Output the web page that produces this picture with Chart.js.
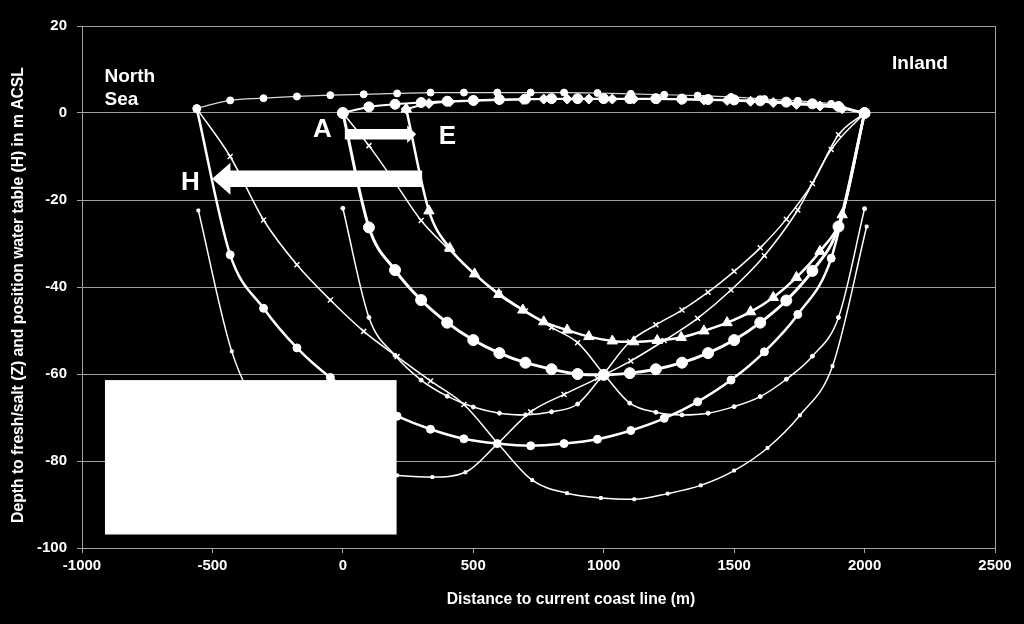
<!DOCTYPE html>
<html><head><meta charset="utf-8">
<script src="https://cdn.jsdelivr.net/npm/chart.js@4.4.0/dist/chart.umd.min.js"></script>
<style>html,body{margin:0;padding:0;background:#000;}#wrap{width:1024px;height:624px;}</style>
</head><body><div id="wrap"><canvas id="c" width="1024" height="624"></canvas></div>
<script>
// ---- axis ticks ----
const xTickValues = [-1000, -500, 0, 500, 1000, 1500, 2000, 2500];
const yTickValues = [20, 0, -20, -40, -60, -80, -100];

// ---- scenario A (current) ----
const A_x  = [0,100,200,300,400,500,600,700,800,900,1000,1100,1200,1300,1400,1500,1600,1700,1800,1900,2000];
const HA_y = [0,1.4,2.0,2.4,2.7,2.9,3.1,3.2,3.3,3.3,3.3,3.3,3.3,3.2,3.1,3.0,2.8,2.5,2.1,1.5,0];
const ZA_y = [0,-26.3,-36.1,-43,-48.2,-52.2,-55.2,-57.4,-58.9,-60,-60.2,-59.8,-58.9,-57.4,-55.2,-52.2,-48.2,-43.1,-36.3,-26.1,0];

// ---- scenario E ----
const E_x  = [243,330,410,505,598,690,770,860,943,1033,1115,1205,1297,1384,1473,1563,1650,1739,1829,1914,2000];
const HE_y = [0.9,2.2,2.6,2.8,3.0,3.1,3.2,3.2,3.2,3.2,3.2,3.2,3.1,3.0,2.9,2.7,2.4,2.0,1.6,1.0,0];
const ZE_y = [0.9,-22.5,-31.1,-37,-41.7,-45.3,-48,-49.9,-51.4,-52.4,-52.6,-52.3,-51.6,-50.1,-48.2,-45.7,-42.4,-37.8,-31.8,-23.4,0];

// ---- scenario H ----
const H_x  = [-560,-432,-304,-176,-48,80,208,336,464,592,720,848,976,1104,1232,1360,1488,1616,1744,1872,2000];
const HH_y = [1.1,2.9,3.4,3.8,4.1,4.3,4.5,4.7,4.7,4.7,4.7,4.7,4.6,4.4,4.2,4.0,3.7,3.2,2.8,2.1,0];
const ZH_y = [1,-32.6,-44.9,-54,-60.8,-65.8,-69.7,-72.7,-74.9,-76,-76.5,-76,-75,-73,-70.2,-66.4,-61.4,-54.9,-46.3,-33.4,0];

// ---- thin curves, scenario A ----
const AXl_x = [0,100,200,300,400,500,600,700,800,900,1000];
const AXl_y = [0,-7.5,-16,-24.7,-31,-36.8,-41.5,-45.5,-49.3,-52.8,-60];
const AXr_x = [1000,1100,1200,1300,1400,1500,1600,1700,1800,1900,2000];
const AXr_y = [-60,-52.6,-48.7,-45.3,-41.2,-36.4,-31,-24.4,-16.2,-5,0];
const ADl_x = [0,100,200,300,400,500,600,700,800,900,1000];
const ADl_y = [-21.9,-47,-55.7,-61.4,-65.1,-67.6,-69,-69.4,-68.7,-66.9,-60];
const ADr_x = [1000,1100,1200,1300,1400,1500,1600,1700,1800,1900,2000];
const ADr_y = [-60,-66.7,-68.8,-69.4,-69,-67.5,-65.2,-61.2,-55.9,-47,-22];

// ---- thin curves, scenario H ----
const HXl_x = [-560,-432,-304,-176,-48,80,208,336,464,594];
const HXl_y = [1,-10,-24.6,-34.9,-43,-50.2,-56,-61.6,-67,-76];
const HXr_x = [594,720,848,976,1104,1232,1360,1488,1616,1744,1872,2000];
const HXr_y = [-76,-68.7,-64.7,-61,-57,-52.3,-47.2,-40.7,-32.8,-22.3,-8.4,0];
const HDl_x = [-554,-426,-298,-170,-42,86,208,343,470,594];
const HDl_y = [-22.4,-54.8,-70,-77,-80.8,-82.6,-83.3,-83.7,-82.6,-76];
const HDr_x = [594,726,859,989,1117,1245,1372,1500,1628,1752,1877,2008];
const HDr_y = [-76,-84.4,-87.4,-88.5,-88.8,-87.5,-85.6,-82.2,-77,-69.5,-58.2,-26.1];

const GRID = '#a0a0a0';
const FONT = "'Liberation Sans', Arial, sans-serif";

function ds(xs, ys, opt) {
  return Object.assign({
    data: xs.map((v, i) => ({x: v, y: ys[i]})),
    borderColor: '#fff', backgroundColor: '#fff',
    pointBorderColor: '#fff', pointBackgroundColor: '#fff',
    cubicInterpolationMode: 'monotone', fill: false,
    pointHoverRadius: 0, pointBorderWidth: 1
  }, opt);
}
const thinX = {borderWidth: 1.5, pointStyle: 'crossRot', pointRadius: 3.5, pointBorderWidth: 1.5};
const thinD = {borderWidth: 1.5, pointStyle: 'circle', pointRadius: 2};
const thinH = {borderWidth: 1.5, pointStyle: 'rect', pointRadius: 2};

const datasets = [
  ds(A_x, ZA_y, {borderWidth: 3, pointStyle: 'circle', pointRadius: 5.5}),
  ds(E_x, ZE_y, {borderWidth: 2.5, pointStyle: 'triangle', pointRadius: 6}),
  ds(H_x, ZH_y, {borderWidth: 2.5, pointStyle: 'circle', pointRadius: 4}),
  ds(A_x, HA_y, {borderWidth: 2, pointStyle: 'circle', pointRadius: 5}),
  ds(E_x, HE_y, {borderWidth: 2, pointStyle: 'rectRot', pointRadius: 5}),
  ds(H_x, HH_y, {borderWidth: 1.2, borderColor: '#d8d8d8', pointStyle: 'circle', pointRadius: 3.5}),
  ds(AXl_x, AXl_y, thinX), ds(AXr_x, AXr_y, thinX),
  ds(ADl_x, ADl_y, thinD), ds(ADr_x, ADr_y, thinD),
  ds(HXl_x, HXl_y, thinX), ds(HXr_x, HXr_y, thinX),
  ds(HDl_x, HDl_y, thinH), ds(HDr_x, HDr_y, thinH)
];

// overlay annotations (data coordinates)
const legendBox = {x0: -912, x1: 206, y0: -61.4, y1: -96.9};
const arrowE = {from: 7.6, base: 246.6, tip: 281, y: -4.9, shaft: 5.3, head: 8.7};
const arrowH = {from: 304, base: -431, tip: -501, y: -15.1, shaft: 8.3, head: 16};

function drawArrow(ctx, sx, sy, a) {
  const xt = sx.getPixelForValue(a.from), xb = sx.getPixelForValue(a.base),
        xp = sx.getPixelForValue(a.tip), yc = sy.getPixelForValue(a.y);
  ctx.beginPath();
  ctx.moveTo(xt, yc - a.shaft); ctx.lineTo(xb, yc - a.shaft); ctx.lineTo(xb, yc - a.head);
  ctx.lineTo(xp, yc); ctx.lineTo(xb, yc + a.head); ctx.lineTo(xb, yc + a.shaft);
  ctx.lineTo(xt, yc + a.shaft); ctx.closePath(); ctx.fill();
}

const overlay = {
  id: 'overlay',
  afterDatasetsDraw(chart) {
    const {ctx, chartArea: ca, scales: {x, y}} = chart;
    ctx.save();
    ctx.strokeStyle = GRID; ctx.lineWidth = 1;
    const rx = Math.round(ca.right) + 0.5;
    ctx.beginPath(); ctx.moveTo(rx, ca.top); ctx.lineTo(rx, ca.bottom); ctx.stroke();
    ctx.fillStyle = '#fff';
    const bx0 = x.getPixelForValue(legendBox.x0), bx1 = x.getPixelForValue(legendBox.x1);
    const by0 = y.getPixelForValue(legendBox.y0), by1 = y.getPixelForValue(legendBox.y1);
    ctx.fillRect(bx0, by0, bx1 - bx0, by1 - by0);
    drawArrow(ctx, x, y, arrowE);
    drawArrow(ctx, x, y, arrowH);
    ctx.textBaseline = 'alphabetic';
    ctx.font = 'bold 26px ' + FONT; ctx.textAlign = 'center';
    ctx.fillText('A', 322.5, 137);
    ctx.fillText('E', 447.5, 143.5);
    ctx.fillText('H', 190.5, 190.3);
    ctx.font = 'bold 19px ' + FONT; ctx.textAlign = 'left';
    ctx.fillText('North', 104.5, 82);
    ctx.fillText('Sea', 104.5, 105.3);
    ctx.fillText('Inland', 892, 68.6);
    ctx.restore();
  },
  afterDraw(chart) {
    const ctx = chart.ctx;
    ctx.save();
    ctx.fillStyle = '#fff';
    ctx.font = 'bold 15.7px ' + FONT;
    ctx.textAlign = 'center'; ctx.textBaseline = 'alphabetic';
    ctx.fillText('Distance to current coast line (m)', 571, 604);
    ctx.translate(23, 295); ctx.rotate(-Math.PI / 2);
    ctx.fillText('Depth to fresh/salt (Z) and position water table (H) in m ACSL', 0, 0);
    ctx.restore();
  }
};

new Chart(document.getElementById('c'), {
  type: 'line',
  data: {datasets},
  plugins: [overlay],
  options: {
    responsive: false, animation: false, events: [],
    layout: {padding: {left: 0, right: 29, top: 26, bottom: 0}},
    plugins: {legend: {display: false}, tooltip: {enabled: false}, title: {display: false}},
    scales: {
      x: {
        type: 'linear', min: -1000, max: 2500,
        afterBuildTicks: s => { s.ticks = xTickValues.map(v => ({value: v})); },
        afterFit: s => { s.height = 76; },
        ticks: {color: '#fff', font: {family: FONT, size: 15, weight: 'bold'}, padding: 4, maxRotation: 0,
                callback: v => String(v)},
        grid: {drawOnChartArea: false, drawTicks: true, tickLength: 5, color: GRID},
        border: {color: GRID, width: 1}
      },
      y: {
        type: 'linear', min: -100, max: 20,
        afterBuildTicks: s => { s.ticks = yTickValues.map(v => ({value: v})); },
        afterFit: s => { s.width = 82; },
        ticks: {color: '#fff', font: {family: FONT, size: 15, weight: 'bold'}, padding: 10,
                callback: v => String(v)},
        grid: {color: GRID, tickLength: 5},
        border: {color: GRID, width: 1}
      }
    }
  }
});
</script></body></html>
